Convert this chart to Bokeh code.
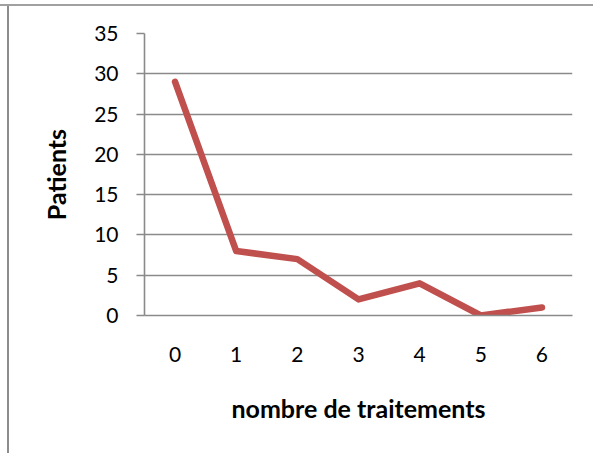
from bokeh.plotting import figure
from bokeh.models import FactorRange, Range1d, FixedTicker
from bokeh.embed import file_html
from bokeh.resources import INLINE

categories = ["0", "1", "2", "3", "4", "5", "6"]
patients = [29, 8, 7, 2, 4, 0, 1]
y_ticks = [0, 5, 10, 15, 20, 25, 30, 35]

FONT = "Lato"
GRID = "#8a8a8a"
W, H = 593, 453

p = figure(width=W, height=H, output_backend="svg", toolbar_location=None,
           x_range=FactorRange(*categories, range_padding=0),
           y_range=Range1d(0, 35),
           min_border_left=144, min_border_right=21, min_border_top=33, min_border_bottom=138)
p.outline_line_color = None
p.background_fill_color = "white"
p.border_fill_color = None
# page frame lines (left and top), drawn behind the transparent canvas border area
p.styles = {
    "background": "linear-gradient(#a0a0a0, #a0a0a0) 0px 4px / 100% 2px no-repeat, "
                  "linear-gradient(#8c8c8c, #8c8c8c) 7px 4px / 2px 100% no-repeat, white"
}

p.line(x=categories, y=patients, line_color="#C0504D", line_width=6.5,
       line_cap="round", line_join="round")

p.xgrid.grid_line_color = None
p.ygrid.grid_line_color = GRID
p.ygrid.grid_line_width = 1.6
p.yaxis.ticker = FixedTicker(ticks=y_ticks)

for ax in (p.xaxis, p.yaxis):
    ax.axis_line_color = GRID
    ax.axis_line_width = 1.6
    ax.major_label_text_font = FONT
    ax.major_label_text_font_size = "21px"
    ax.major_label_text_color = "black"
    ax.axis_label_text_font = FONT
    ax.axis_label_text_font_size = "25px"
    ax.axis_label_text_font_style = "bold"
    ax.axis_label_text_color = "black"
    ax.minor_tick_line_color = None

p.yaxis.major_tick_line_color = GRID
p.yaxis.major_tick_line_width = 1.6
p.yaxis.major_tick_out = 8
p.yaxis.major_tick_in = 0
p.yaxis.major_label_standoff = 18
p.yaxis.axis_label = "Patients"
p.yaxis.axis_label_standoff = 20

p.xaxis.major_tick_line_color = None
p.xaxis.major_tick_out = 0
p.xaxis.major_tick_in = 0
p.xaxis.major_label_standoff = 31
p.xaxis.axis_label = "nombre de traitements"
p.xaxis.axis_label_standoff = 28

open("out.html", "w").write(file_html(p, INLINE))
